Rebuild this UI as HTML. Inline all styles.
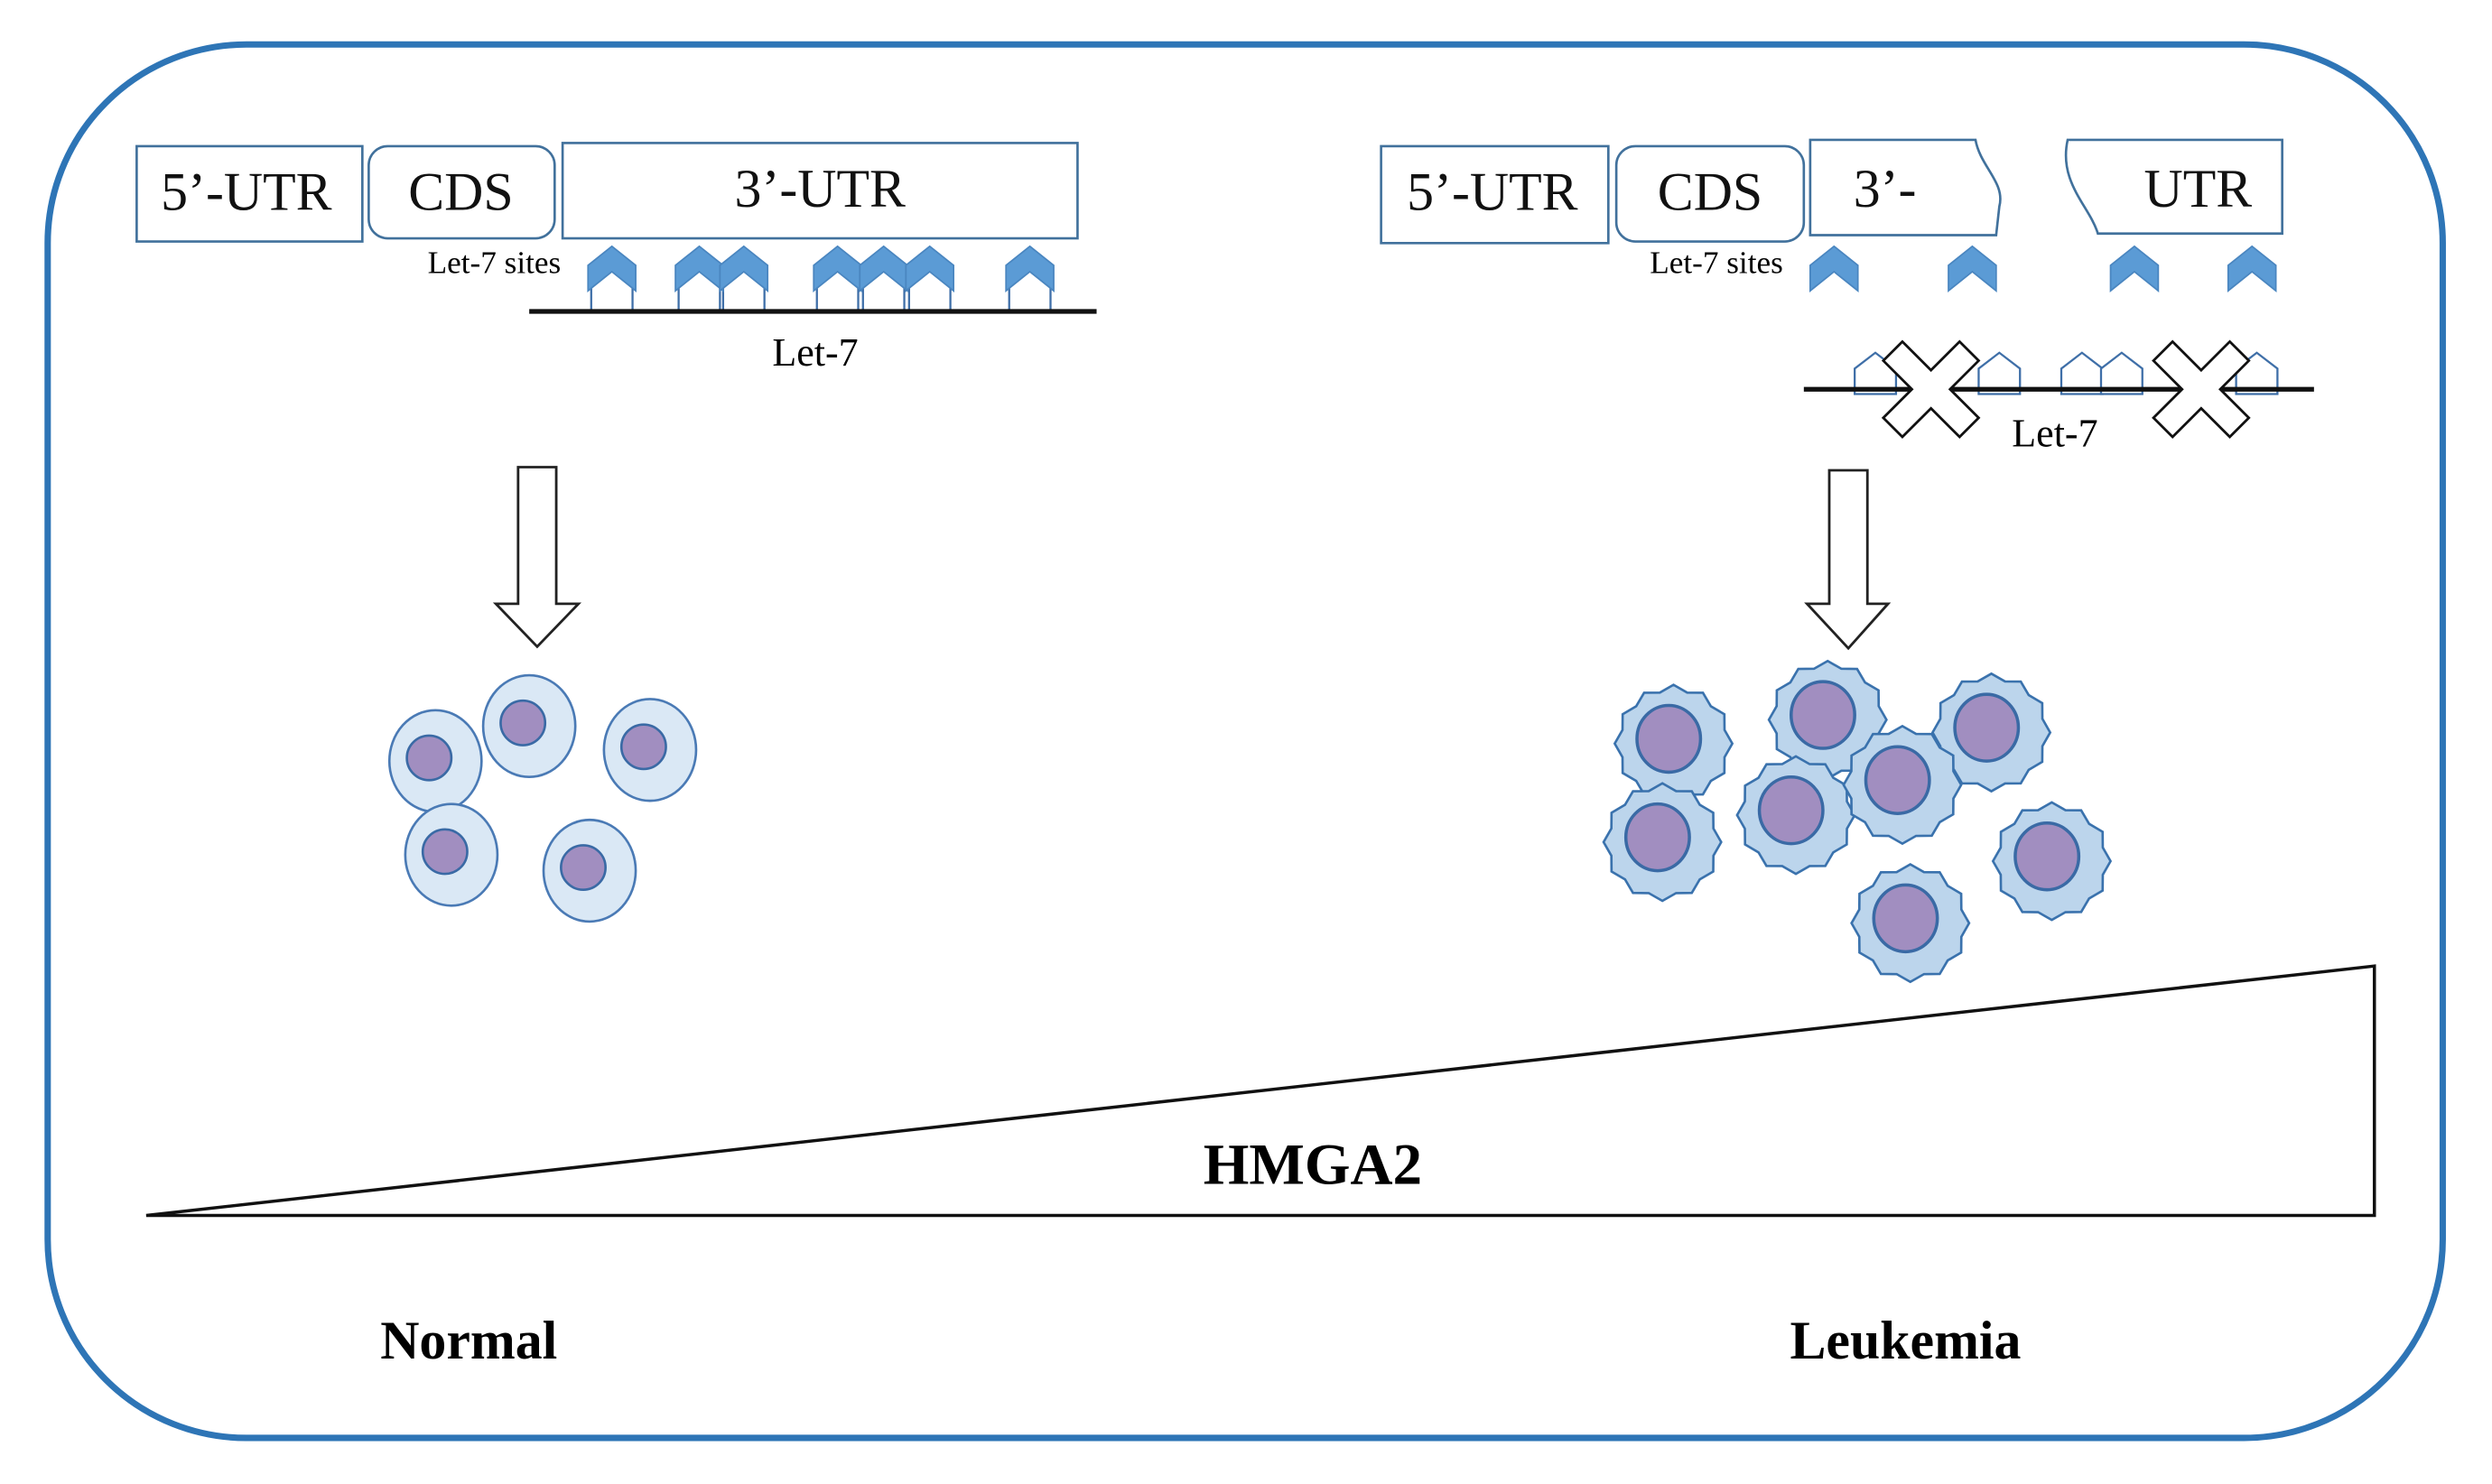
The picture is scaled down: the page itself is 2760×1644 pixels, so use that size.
<!DOCTYPE html>
<html><head><meta charset="utf-8"><style>html,body{margin:0;padding:0;background:#fff}svg{display:block}</style></head>
<body>
<svg width="2760" height="1644" viewBox="0 0 1568 934" preserveAspectRatio="none" xmlns="http://www.w3.org/2000/svg" font-family="'Liberation Serif', serif">
<defs>
<polygon id="ch" points="-15,12 0,0 15,12 15,28 0,16 -15,28" fill="#5b9bd5" stroke="#4a86c0" stroke-width="1"/>
<polygon id="hs" points="-13,26 -13,10 0,0 13,10 13,26" fill="#fff" stroke="#3f6fa8" stroke-width="1.3"/>
<g id="st">
<polygon points="0,-37 8.6,-32.1 18.5,-32 23.5,-23.5 32,-18.5 32.1,-8.6 37,0 32.1,8.6 32,18.5 23.5,23.5 18.5,32 8.6,32.1 0,37 -8.6,32.1 -18.5,32 -23.5,23.5 -32,18.5 -32.1,8.6 -37,0 -32.1,-8.6 -32,-18.5 -23.5,-23.5 -18.5,-32 -8.6,-32.1" fill="#bcd5ec" stroke="#3a72ad" stroke-width="1.5"/>
<ellipse cx="-3" cy="-3" rx="20" ry="21" fill="#a18ec0" stroke="#3a6aa5" stroke-width="2"/>
</g>
<g id="nc">
<ellipse cx="0" cy="0" rx="29" ry="32" fill="#dae8f5" stroke="#4a7ab5" stroke-width="1.5"/>
<circle cx="-4" cy="-2" r="14" fill="#a18ec0" stroke="#3a6aa5" stroke-width="1.5"/>
</g>
<polygon id="xm" points="-30,-18 -18,-30 0,-12 18,-30 30,-18 12,0 30,18 18,30 0,12 -18,30 -30,18 -12,0" fill="#fff" stroke="#111" stroke-width="1.6"/>
</defs>
<rect x="30" y="28" width="1507" height="877" rx="125" fill="none" stroke="#2e75b6" stroke-width="4"/>

<g fill="#fff" stroke="#41719c" stroke-width="1.5">
<rect x="86" y="92" width="142" height="60"/>
<rect x="232" y="92" width="117" height="58" rx="12"/>
<rect x="354" y="90" width="324" height="60"/>
</g>
<g font-size="34" text-anchor="middle" fill="#111">
<text x="155" y="132">5’-UTR</text><text x="290" y="132">CDS</text><text x="516" y="130">3’-UTR</text>
</g>
<text x="311" y="172" font-size="20" text-anchor="middle">Let-7 sites</text>
<g>
<use href="#hs" x="385" y="170"/><use href="#hs" x="440" y="170"/><use href="#hs" x="468" y="170"/><use href="#hs" x="527" y="170"/><use href="#hs" x="556" y="170"/><use href="#hs" x="585" y="170"/><use href="#hs" x="648" y="170"/>
<use href="#ch" x="385" y="155"/><use href="#ch" x="440" y="155"/><use href="#ch" x="468" y="155"/><use href="#ch" x="527" y="155"/><use href="#ch" x="556" y="155"/><use href="#ch" x="585" y="155"/><use href="#ch" x="648" y="155"/>
</g>
<line x1="333" y1="196" x2="690" y2="196" stroke="#111" stroke-width="3"/>
<text x="513" y="230" font-size="25" text-anchor="middle">Let-7</text>
<polygon points="326,294 350,294 350,380 364,380 338,407 312,380 326,380" fill="#fff" stroke="#222" stroke-width="1.6"/>

<use href="#nc" x="274" y="479"/><use href="#nc" x="333" y="457"/><use href="#nc" x="409" y="472"/><use href="#nc" x="284" y="538"/><use href="#nc" x="371" y="548"/>

<g fill="#fff" stroke="#41719c" stroke-width="1.5">
<rect x="869" y="92" width="143" height="61"/>
<rect x="1017" y="92" width="118" height="60" rx="12"/>
<path d="M1139,88 L1243,88 C1246,105 1262,115 1258,130 L1256,148 L1139,148 Z"/>
<path d="M1301,88 L1436,88 L1436,147 L1320,147 C1315,130 1295,115 1301,88 Z"/>
</g>
<g font-size="34" text-anchor="middle" fill="#111">
<text x="939" y="132">5’-UTR</text><text x="1076" y="132">CDS</text><text x="1186" y="130">3’-</text><text x="1383" y="130">UTR</text>
</g>
<text x="1080" y="172" font-size="20" text-anchor="middle">Let-7 sites</text>
<use href="#ch" x="1154" y="155"/><use href="#ch" x="1241" y="155"/><use href="#ch" x="1343" y="155"/><use href="#ch" x="1417" y="155"/>
<g>
<use href="#hs" x="1180" y="222"/><use href="#hs" x="1258" y="222"/><use href="#hs" x="1310" y="222"/><use href="#hs" x="1335" y="222"/><use href="#hs" x="1420" y="222"/>
</g>
<line x1="1135" y1="245" x2="1456" y2="245" stroke="#111" stroke-width="3"/>
<use href="#xm" x="1215" y="245"/><use href="#xm" x="1385" y="245"/>
<text x="1293" y="281" font-size="25" text-anchor="middle">Let-7</text>
<polygon points="1151,296 1175,296 1175,380 1188,380 1163,408 1137,380 1151,380" fill="#fff" stroke="#222" stroke-width="1.6"/>

<use href="#st" x="1053" y="468"/><use href="#st" x="1150" y="453"/><use href="#st" x="1253" y="461"/><use href="#st" x="1046" y="530"/><use href="#st" x="1130" y="513"/><use href="#st" x="1197" y="494"/><use href="#st" x="1291" y="542"/><use href="#st" x="1202" y="581"/>

<polygon points="92,765 1494,765 1494,608" fill="#fff" stroke="#111" stroke-width="2"/>
<text x="826" y="745" font-size="37" font-weight="bold" text-anchor="middle">HMGA2</text>
<text x="295" y="855" font-size="34" font-weight="bold" text-anchor="middle">Normal</text>
<text x="1199" y="855" font-size="34" font-weight="bold" text-anchor="middle">Leukemia</text>
</svg>
</body></html>
